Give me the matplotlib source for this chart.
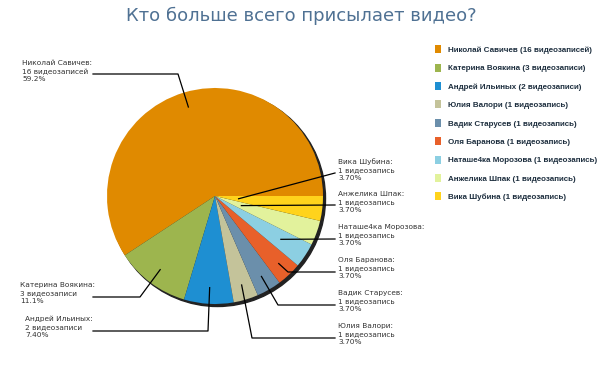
import matplotlib.pyplot as plt
from matplotlib.patches import Circle
import numpy as np

# data
names = ["Николай Савичев", "Катерина Воякина", "Андрей Ильиных", "Юлия Валори",
         "Вадик Старусев", "Оля Баранова", "Наташе4ка Морозова", "Анжелика Шпак",
         "Вика Шубина"]
counts = [16, 3, 2, 1, 1, 1, 1, 1, 1]
count_words = ["16 видеозаписей", "3 видеозаписи", "2 видеозаписи", "1 видеозапись",
               "1 видеозапись", "1 видеозапись", "1 видеозапись", "1 видеозапись",
               "1 видеозапись"]
percents = ["59.2%", "11.1%", "7.40%", "3.70%", "3.70%", "3.70%", "3.70%", "3.70%", "3.70%"]
colors = ["#E08A00", "#9DB54E", "#1E8FD2", "#C4C39A", "#6B8FAB", "#E8602A",
          "#8CCFE2", "#E2F29C", "#FFD31C"]
legend_labels = [f"{n} ({w})" for n, w in zip(names, count_words)]

W, H = 604, 378
fig = plt.figure(figsize=(W / 100, H / 100), dpi=100)
ax = fig.add_axes([0, 0, 1, 1])

# pie in pixel coordinates (y up)
cx, cy, r = 215, H - 196, 108
ax.add_patch(Circle((cx + 2.5, cy - 2.5), r, color="#222222", zorder=0.5))
wedges, _ = ax.pie(counts, colors=colors, startangle=0, counterclock=True,
                   center=(cx, cy), radius=r, frame=True,
                   wedgeprops=dict(linewidth=0))
ax.set_xlim(0, W)
ax.set_ylim(0, H)
ax.axis("off")

# leader layout: anchor fraction of radius, bend points (pixels from top), text top-left
layout = [
    (0.86, [(178, 74), (93, 74)], (22, 60)),
    (0.85, [(140, 297), (93, 297)], (20, 282)),
    (0.85, [(208, 331), (93, 331)], (25, 316)),
    (0.86, [(252, 338), (335, 338)], (338, 323)),
    (0.86, [(278, 305), (335, 305)], (338, 290)),
    (0.86, [(288, 272), (335, 272)], (338, 257)),
    (0.73, [(335, 239)], (338, 224)),
    (0.26, [(335, 205)], (338, 191)),
    (0.22, [(335, 173)], (338, 158)),
]

for w, name, cw, pct, (frac, bends, (tx, ty)) in zip(wedges, names, count_words, percents, layout):
    mid = np.deg2rad((w.theta1 + w.theta2) / 2)
    ax0 = w.center[0] + frac * w.r * np.cos(mid)
    ay0 = w.center[1] + frac * w.r * np.sin(mid)
    xs = [ax0] + [b[0] for b in bends]
    ys = [ay0] + [H - b[1] for b in bends]
    ax.plot(xs, ys, color="black", lw=0.9, zorder=3)
    ax.text(tx, H - ty, f"{name}:\n{cw}\n{pct}", fontsize=5.3, color="#333333",
            va="top", ha="left", linespacing=1.38)

ax.legend(wedges, legend_labels, loc="upper left", bbox_to_anchor=(428 / W, 1 - 38 / H),
          bbox_transform=fig.transFigure, frameon=False,
          prop=dict(family="Liberation Sans", size=5.8, weight="bold"),
          labelcolor="#1f3040",
          handlelength=0.75, handleheight=1.15, handletextpad=0.85, labelspacing=1.2)

fig.text(301 / W, 1 - 16 / H, "Кто больше всего присылает видео?", fontsize=13,
         color="#4f7193", ha="center", va="center")

plt.savefig("out.png", dpi=100)
